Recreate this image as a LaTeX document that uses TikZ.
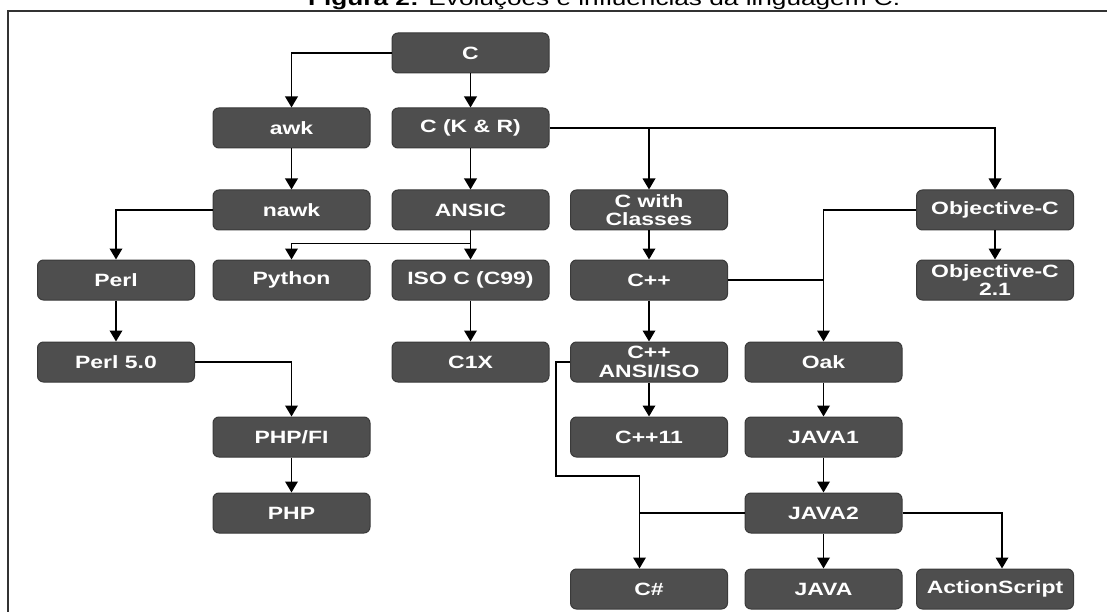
\documentclass[tikz,border=0pt]{standalone}
\usepackage{fontspec}
\setmainfont{Liberation Sans}
\newfontfamily\boxfont[FakeStretch=1.29]{Liberation Sans}
\usetikzlibrary{arrows.meta,calc}
\definecolor{boxfill}{HTML}{4E4E4E}
\definecolor{boxline}{HTML}{3A3A3A}
\definecolor{framec}{HTML}{333333}
\tikzset{
  lang/.style={draw=boxline, line width=1pt, fill=boxfill, rounded corners=6pt,
    minimum width=157pt, minimum height=40pt, inner sep=0pt, text=white,
    align=center, font=\boxfont\bfseries\fontsize{17.8}{18.5}\selectfont},
  link/.style={line width=1.9pt, black},
  arr/.style={link, -{Triangle[length=11pt,width=12.5pt]}},
}
\begin{document}
\begin{tikzpicture}[x=1pt,y=-1pt]
\useasboundingbox (0,0) rectangle (1107,612);
\fill[white] (0,0) rectangle (1107,612);
% title and frame
\node[anchor=base west, font=\boxfont\fontsize{20.3}{22}\selectfont, inner sep=0pt] (title) at (308,5.5) {\textbf{Figura 2:} Evoluções e influências da linguagem C.};
\draw[framec, line width=2.5pt] (8,640) -- (8,11) -- (1130,11);
% nodes
\node[lang] (c)      at (470.5,53)  {C};
\node[lang] (awk)    at (291.5,128) {awk};
\node[lang] (ckr)    at (470.5,128) {C (K \& R)};
\node[lang] (nawk)   at (291.5,210) {nawk};
\node[lang] (ansic)  at (470.5,210) {ANSIC};
\node[lang] (cwc)    at (649,210)   {C with\\Classes};
\node[lang] (objc)   at (995,210)   {Objective-C};
\node[lang] (perl)   at (116,280)   {Perl};
\node[lang] (python) at (291.5,280) {Python};
\node[lang] (iso)    at (470.5,280) {ISO C (C99)};
\node[lang] (cpp)    at (649,280)   {C++};
\node[lang] (objc21) at (995,280)   {Objective-C\\2.1};
\node[lang] (perl5)  at (116,362)   {Perl 5.0};
\node[lang] (c1x)    at (470.5,362) {C1X};
\node[lang] (cppiso) at (649,362)   {C++\\ANSI/ISO};
\node[lang] (oak)    at (823.5,362) {Oak};
\node[lang] (phpfi)  at (291.5,437) {PHP/FI};
\node[lang] (cpp11)  at (649,437)   {C++11};
\node[lang] (java1)  at (823.5,437) {JAVA1};
\node[lang] (php)    at (291.5,513) {PHP};
\node[lang] (java2)  at (823.5,513) {JAVA2};
\node[lang] (cs)     at (649,589)   {C\#};
\node[lang] (java)   at (823.5,589) {JAVA};
\node[lang] (as)     at (995,589)   {ActionScript};
% helper coordinates
\coordinate (csin) at ($(cs.north)+(-9.5,0)$);
\coordinate (asin) at ($(as.north)+(7,0)$);
\coordinate (pyb) at ($(ansic.south)+(0,13)$);
% connectors
\draw[arr] (c.west) -| (awk.north);
\draw[arr] (c) -- (ckr);
\draw[arr] (awk) -- (nawk);
\draw[arr] (ckr.east) -| (objc.north);
\draw[arr] (ckr.east -| cwc.north) -- (cwc.north);
\draw[arr] (ckr) -- (ansic);
\draw[arr] (nawk.west) -| (perl.north);
\draw[arr] (ansic) -- (iso);
\draw[arr] (pyb) -| (python.north);
\draw[arr] (perl) -- (perl5);
\draw[arr] (iso) -- (c1x);
\draw[arr] (perl5.east) -| (phpfi.north);
\draw[arr] (phpfi) -- (php);
\draw[arr] (cwc) -- (cpp);
\draw[arr] (objc) -- (objc21);
\draw[arr] (objc.west) -| (oak.north);
\draw[link] (cpp.east) -- (cpp.east -| oak.north);
\draw[arr] (cpp) -- (cppiso);
\draw[arr] (cppiso) -- (cpp11);
\draw[arr] (cppiso.west) -| (556,476) -| (csin);
\draw[link] (java2.west) -- (java2.west -| csin);
\draw[arr] (oak) -- (java1);
\draw[arr] (java1) -- (java2);
\draw[arr] (java2) -- (java);
\draw[arr] (java2.east) -| (asin);
\end{tikzpicture}
\end{document}
